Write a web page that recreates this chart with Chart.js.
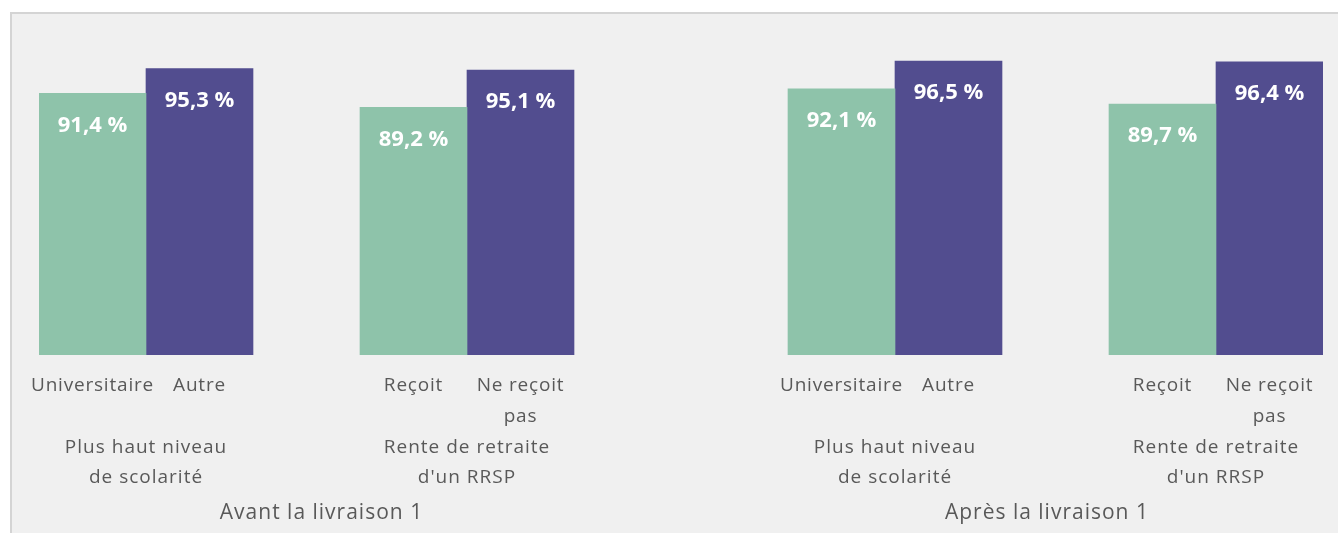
<!DOCTYPE html>
<html>
<head>
<meta charset="utf-8">
<script src="https://cdn.jsdelivr.net/npm/chart.js@4/dist/chart.umd.min.js"></script>
<style>
  html, body { margin: 0; padding: 0; background: #ffffff; }
  #frame { position: absolute; left: 10px; top: 12px; width: 1340px; height: 530px;
           background: #f0f0f0; border-left: 2px solid #d4d4d4; border-top: 2px solid #d4d4d4; }
  #wrap { position: absolute; left: 0; top: 0; width: 1338px; height: 533px; }
</style>
</head>
<body>
<div id="frame"></div>
<div id="wrap"><canvas id="c" width="1338" height="533"></canvas></div>
<script>
// ---- Data ----
const periods = ["Avant la livraison 1", "Après la livraison 1"];
const subgroups = [["Plus haut niveau", "de scolarité"], ["Rente de retraite", "d'un RRSP"]];
const firstCategories = ["Universitaire", "Reçoit"];
const secondCategories = ["Autre", ["Ne reçoit", "pas"]];
// values per period, per subgroup (first category = green, second = purple)
const greenValues = [91.4, 89.2, 92.1, 89.7];
const purpleValues = [95.3, 95.1, 96.5, 96.4];

const GREEN = "#8ec3aa";
const PURPLE = "#524d8f";
const TEXT = "#595959";

// ---- Build slot table (with blank separator slots) ----
const labels = [];
const greenData = [];
const purpleData = [];
const subgroupSlots = [];
const periodSlots = [];
let k = 0;
periods.forEach((p, pi) => {
  if (pi > 0) { labels.push(""); greenData.push(null); purpleData.push(null); }
  const start = labels.length;
  subgroups.forEach((sg, si) => {
    if (si > 0) { labels.push(""); greenData.push(null); purpleData.push(null); }
    subgroupSlots.push([labels.length, si]);
    labels.push(firstCategories[si]); greenData.push(greenValues[k]); purpleData.push(null);
    labels.push(secondCategories[si]); greenData.push(null); purpleData.push(purpleValues[k]);
    k++;
  });
  periodSlots.push([start, labels.length - 1, pi]);
  if (pi === 0) { labels.push(""); greenData.push(null); purpleData.push(null); }
});

const fmt = v => v.toFixed(1).replace(".", ",") + " %";

const spacing = {
  id: "spacing",
  beforeDraw(chart) { chart.ctx.letterSpacing = "0.8px"; }
};

const valueLabels = {
  id: "valueLabels",
  afterDatasetsDraw(chart) {
    const ctx = chart.ctx;
    ctx.save();
    ctx.letterSpacing = "0px";
    ctx.fillStyle = "#ffffff";
    ctx.font = "bold 22px 'Open Sans'";
    ctx.textAlign = "center";
    ctx.textBaseline = "middle";
    chart.data.datasets.forEach((ds, di) => {
      chart.getDatasetMeta(di).data.forEach((bar, i) => {
        const v = ds.data[i];
        if (v == null) return;
        ctx.fillText(fmt(v), bar.x, bar.y + 32);
      });
    });
    ctx.restore();
  }
};

const groupLabels = {
  id: "groupLabels",
  afterDraw(chart) {
    const ctx = chart.ctx;
    const x = chart.scales.x;
    ctx.save();
    ctx.fillStyle = TEXT;
    ctx.textAlign = "center";
    ctx.textBaseline = "middle";
    ctx.letterSpacing = "1px";
    ctx.font = "19px 'Open Sans'";
    subgroupSlots.forEach(([s, si]) => {
      const cx = x.getPixelForValue(s + 0.5);
      ctx.fillText(subgroups[si][0], cx, 448);
      ctx.fillText(subgroups[si][1], cx, 478);
    });
    ctx.font = "21px 'Open Sans'";
    const periodOffsets = [0.14, -0.08];
    periodSlots.forEach(([a, b, pi]) => {
      const cx = x.getPixelForValue((a + b) / 2 + periodOffsets[pi]);
      ctx.fillText(periods[pi], cx, 513);
    });
    ctx.restore();
  }
};

new Chart(document.getElementById("c"), {
  type: "bar",
  data: {
    labels: labels,
    datasets: [
      { label: "A", data: greenData, backgroundColor: GREEN },
      { label: "B", data: purpleData, backgroundColor: PURPLE }
    ]
  },
  options: {
    responsive: false,
    animation: false,
    layout: { padding: { left: 39, right: 15, top: 39, bottom: 0 } },
    datasets: { bar: { grouped: false, barPercentage: 1, categoryPercentage: 1, skipNull: true } },
    plugins: { legend: { display: false }, tooltip: { enabled: false } },
    scales: {
      y: { display: false, min: 50, max: 100 },
      x: {
        grid: { display: false, drawTicks: false },
        border: { display: false },
        ticks: { color: TEXT, font: { family: "'Open Sans'", size: 19, lineHeight: 1.63 }, padding: 15, maxRotation: 0, autoSkip: false },
        afterFit(s) { s.height = 178; }
      }
    }
  },
  plugins: [spacing, valueLabels, groupLabels]
});
</script>
</body>
</html>
